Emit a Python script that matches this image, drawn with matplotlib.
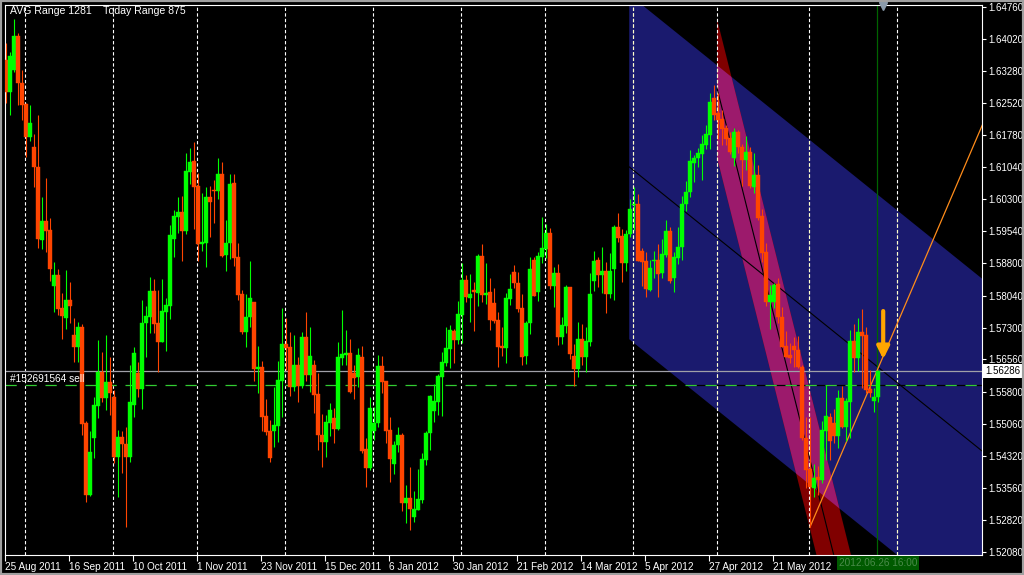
import numpy as np
import matplotlib.pyplot as plt
from matplotlib.patches import Polygon, Rectangle
from matplotlib.transforms import blended_transform_factory

plt.rcParams['font.family'] = ['Liberation Sans', 'DejaVu Sans']

# 日线 OHLC
opens = [1.6353, 1.6278, 1.6329, 1.6409, 1.6299, 1.6250, 1.6174, 1.6150, 1.6104, 1.5934,
         1.5978, 1.5957, 1.5827, 1.5853, 1.5776, 1.5752, 1.5794, 1.5713, 1.5685, 1.5731,
         1.5508, 1.5340, 1.5473, 1.5548, 1.5627, 1.5566, 1.5603, 1.5569, 1.5429, 1.5475,
         1.5459, 1.5429, 1.5550, 1.5624, 1.5587, 1.5741, 1.5755, 1.5815, 1.5741, 1.5697,
         1.5766, 1.5780, 1.5936, 1.5987, 1.5999, 1.5955, 1.6092, 1.6118, 1.6060, 1.5925,
         1.5927, 1.6034, 1.6050, 1.6048, 1.6087, 1.5899, 1.5927, 1.6066, 1.5894, 1.5808,
         1.5720, 1.5755, 1.5790, 1.5634, 1.5638, 1.5524, 1.5489, 1.5489, 1.5501, 1.5606,
         1.5692, 1.5685, 1.5592, 1.5643, 1.5594, 1.5708, 1.5620, 1.5643, 1.5575, 1.5480,
         1.5464, 1.5508, 1.5520, 1.5494, 1.5659, 1.5666, 1.5671, 1.5624, 1.5615, 1.5662,
         1.5448, 1.5403, 1.5489, 1.5508, 1.5641, 1.5606, 1.5492, 1.5413, 1.5457, 1.5480,
         1.5322, 1.5334, 1.5289, 1.5306, 1.5329, 1.5422, 1.5485, 1.5536, 1.5557, 1.5615,
         1.5648, 1.5680, 1.5722, 1.5701, 1.5759, 1.5841, 1.5799, 1.5818, 1.5811, 1.5897,
         1.5806, 1.5813, 1.5787, 1.5748, 1.5687, 1.5683, 1.5797, 1.5859, 1.5834, 1.5776,
         1.5664, 1.5741, 1.5887, 1.5813, 1.5894, 1.5913, 1.5950, 1.5827, 1.5857, 1.5708,
         1.5734, 1.5825, 1.5664, 1.5634, 1.5704, 1.5662, 1.5697, 1.5838, 1.5887, 1.5853,
         1.5862, 1.5808, 1.5866, 1.5964, 1.5943, 1.5880, 1.5948, 1.6015, 1.6018, 1.5908,
         1.5885, 1.5818, 1.5885, 1.5887, 1.5857, 1.5899, 1.5955, 1.5846, 1.5892, 1.5918,
         1.6018, 1.6046, 1.6113, 1.6125, 1.6134, 1.6155, 1.6178, 1.6264, 1.6229, 1.6215,
         1.6194, 1.6171, 1.6125, 1.6185, 1.6150, 1.6120, 1.6139, 1.6057, 1.6085, 1.5990,
         1.5906, 1.5790, 1.5790, 1.5832, 1.5755, 1.5687, 1.5666, 1.5687, 1.5678, 1.5638,
         1.5473, 1.5401, 1.5357, 1.5382, 1.5375, 1.5489, 1.5522, 1.5508, 1.5478, 1.5566,
         1.5499, 1.5557, 1.5699, 1.5659, 1.5720, 1.5713, 1.5587, 1.5559, 1.5569]
highs = [1.6392, 1.6371, 1.6448, 1.6415, 1.6329, 1.6253, 1.6248, 1.6181, 1.6225, 1.6034,
         1.6078, 1.5985, 1.5883, 1.5866, 1.5811, 1.5864, 1.5836, 1.5752, 1.5743, 1.5738,
         1.5513, 1.5489, 1.5569, 1.5701, 1.5673, 1.5713, 1.5662, 1.5585, 1.5492, 1.5489,
         1.5499, 1.5643, 1.5685, 1.5650, 1.5794, 1.5780, 1.5848, 1.5843, 1.5818, 1.5843,
         1.5799, 1.5969, 1.6004, 1.6034, 1.6036, 1.6136, 1.6148, 1.6162, 1.6090, 1.6043,
         1.6057, 1.6060, 1.6073, 1.6125, 1.6115, 1.5980, 1.6087, 1.6087, 1.5927, 1.5818,
         1.5808, 1.5885, 1.5790, 1.5687, 1.5652, 1.5564, 1.5515, 1.5592, 1.5652, 1.5776,
         1.5752, 1.5720, 1.5713, 1.5662, 1.5720, 1.5766, 1.5731, 1.5655, 1.5624, 1.5529,
         1.5527, 1.5555, 1.5543, 1.5696, 1.5771, 1.5724, 1.5704, 1.5643, 1.5683, 1.5687,
         1.5473, 1.5569, 1.5545, 1.5666, 1.5664, 1.5606, 1.5522, 1.5466, 1.5499, 1.5485,
         1.5364, 1.5406, 1.5350, 1.5401, 1.5438, 1.5489, 1.5573, 1.5599, 1.5622, 1.5673,
         1.5731, 1.5736, 1.5727, 1.5792, 1.5880, 1.5853, 1.5855, 1.5836, 1.5901, 1.5925,
         1.5880, 1.5846, 1.5822, 1.5766, 1.5731, 1.5811, 1.5855, 1.5876, 1.5859, 1.5808,
         1.5745, 1.5894, 1.5894, 1.5906, 1.5988, 1.5971, 1.5962, 1.5871, 1.5878, 1.5755,
         1.5829, 1.5825, 1.5692, 1.5743, 1.5738, 1.5731, 1.5857, 1.5908, 1.5894, 1.5918,
         1.5883, 1.5904, 1.5969, 1.5997, 1.5959, 1.5957, 1.6029, 1.6057, 1.6041, 1.5915,
         1.5906, 1.5887, 1.5908, 1.5925, 1.5936, 1.5980, 1.5964, 1.5906, 1.5964, 1.6036,
         1.6071, 1.6143, 1.6132, 1.6148, 1.6178, 1.6202, 1.6276, 1.6294, 1.6276, 1.6236,
         1.6202, 1.6185, 1.6194, 1.6190, 1.6157, 1.6176, 1.6150, 1.6136, 1.6108, 1.6006,
         1.5927, 1.5829, 1.5834, 1.5846, 1.5778, 1.5722, 1.5694, 1.5708, 1.5711, 1.5643,
         1.5522, 1.5522, 1.5413, 1.5408, 1.5513, 1.5597, 1.5531, 1.5541, 1.5585, 1.5594,
         1.5566, 1.5724, 1.5738, 1.5752, 1.5773, 1.5731, 1.5631, 1.5590, 1.5631]
lows = [1.6253, 1.6225, 1.6325, 1.6248, 1.6213, 1.6127, 1.6164, 1.6057, 1.5915, 1.5913,
        1.5906, 1.5838, 1.5766, 1.5759, 1.5704, 1.5727, 1.5740, 1.5650, 1.5650, 1.5480,
        1.5324, 1.5338, 1.5427, 1.5520, 1.5557, 1.5538, 1.5527, 1.5415, 1.5336, 1.5392,
        1.5266, 1.5417, 1.5522, 1.5569, 1.5541, 1.5662, 1.5717, 1.5717, 1.5627, 1.5697,
        1.5676, 1.5750, 1.5894, 1.5950, 1.5885, 1.5948, 1.6064, 1.5959, 1.5885, 1.5908,
        1.5871, 1.5941, 1.5973, 1.6029, 1.5894, 1.5862, 1.5890, 1.5873, 1.5794, 1.5715,
        1.5685, 1.5731, 1.5606, 1.5578, 1.5489, 1.5480, 1.5417, 1.5452, 1.5464, 1.5522,
        1.5631, 1.5571, 1.5583, 1.5557, 1.5590, 1.5606, 1.5580, 1.5531, 1.5445, 1.5406,
        1.5429, 1.5478, 1.5461, 1.5492, 1.5643, 1.5643, 1.5578, 1.5564, 1.5592, 1.5438,
        1.5359, 1.5399, 1.5468, 1.5499, 1.5578, 1.5461, 1.5371, 1.5390, 1.5441, 1.5303,
        1.5275, 1.5259, 1.5278, 1.5306, 1.5322, 1.5410, 1.5445, 1.5510, 1.5527, 1.5524,
        1.5641, 1.5636, 1.5648, 1.5692, 1.5694, 1.5790, 1.5743, 1.5722, 1.5780, 1.5790,
        1.5785, 1.5724, 1.5741, 1.5638, 1.5664, 1.5648, 1.5783, 1.5822, 1.5766, 1.5643,
        1.5645, 1.5715, 1.5804, 1.5792, 1.5880, 1.5892, 1.5820, 1.5778, 1.5690, 1.5692,
        1.5717, 1.5657, 1.5594, 1.5615, 1.5643, 1.5627, 1.5687, 1.5815, 1.5825, 1.5811,
        1.5764, 1.5799, 1.5794, 1.5929, 1.5836, 1.5862, 1.5941, 1.5957, 1.5885, 1.5827,
        1.5801, 1.5815, 1.5846, 1.5801, 1.5846, 1.5894, 1.5834, 1.5813, 1.5878, 1.5887,
        1.6001, 1.6034, 1.6069, 1.6104, 1.6073, 1.6146, 1.6146, 1.6213, 1.6169, 1.6155,
        1.6155, 1.6134, 1.6106, 1.6136, 1.6060, 1.6097, 1.6055, 1.6043, 1.5980, 1.5883,
        1.5780, 1.5727, 1.5776, 1.5741, 1.5685, 1.5662, 1.5648, 1.5638, 1.5636, 1.5468,
        1.5357, 1.5266, 1.5336, 1.5340, 1.5368, 1.5422, 1.5422, 1.5461, 1.5450, 1.5496,
        1.5466, 1.5473, 1.5627, 1.5629, 1.5590, 1.5578, 1.5569, 1.5534, 1.5557]
closes = [1.6278, 1.6362, 1.6409, 1.6299, 1.6248, 1.6174, 1.6206, 1.6104, 1.5936, 1.5978,
          1.5955, 1.5866, 1.5853, 1.5773, 1.5757, 1.5794, 1.5780, 1.5685, 1.5731, 1.5506,
          1.5340, 1.5441, 1.5550, 1.5627, 1.5566, 1.5603, 1.5578, 1.5429, 1.5475, 1.5459,
          1.5429, 1.5557, 1.5671, 1.5587, 1.5741, 1.5757, 1.5815, 1.5738, 1.5697, 1.5769,
          1.5783, 1.5946, 1.5990, 1.5999, 1.5955, 1.6094, 1.6115, 1.6057, 1.5925, 1.5929,
          1.6034, 1.6022, 1.6048, 1.6087, 1.5897, 1.5927, 1.6064, 1.5892, 1.5806, 1.5720,
          1.5755, 1.5799, 1.5634, 1.5638, 1.5522, 1.5487, 1.5427, 1.5503, 1.5608, 1.5692,
          1.5683, 1.5592, 1.5643, 1.5594, 1.5708, 1.5620, 1.5664, 1.5573, 1.5480, 1.5464,
          1.5510, 1.5538, 1.5494, 1.5662, 1.5669, 1.5671, 1.5580, 1.5613, 1.5666, 1.5443,
          1.5403, 1.5543, 1.5508, 1.5641, 1.5603, 1.5489, 1.5424, 1.5457, 1.5480, 1.5322,
          1.5334, 1.5308, 1.5308, 1.5331, 1.5424, 1.5485, 1.5571, 1.5559, 1.5617, 1.5650,
          1.5683, 1.5724, 1.5701, 1.5762, 1.5841, 1.5801, 1.5808, 1.5813, 1.5897, 1.5806,
          1.5811, 1.5748, 1.5745, 1.5685, 1.5683, 1.5799, 1.5820, 1.5834, 1.5773, 1.5662,
          1.5741, 1.5866, 1.5804, 1.5897, 1.5915, 1.5950, 1.5827, 1.5857, 1.5708, 1.5736,
          1.5825, 1.5669, 1.5634, 1.5704, 1.5662, 1.5699, 1.5808, 1.5885, 1.5853, 1.5862,
          1.5808, 1.5862, 1.5964, 1.5939, 1.5880, 1.5948, 1.6006, 1.6018, 1.5885, 1.5883,
          1.5820, 1.5869, 1.5887, 1.5855, 1.5901, 1.5955, 1.5838, 1.5894, 1.5918, 1.6018,
          1.6046, 1.6118, 1.6125, 1.6136, 1.6157, 1.6181, 1.6255, 1.6225, 1.6213, 1.6192,
          1.6169, 1.6139, 1.6185, 1.6150, 1.6120, 1.6139, 1.6060, 1.6085, 1.5985, 1.5904,
          1.5790, 1.5806, 1.5829, 1.5755, 1.5685, 1.5662, 1.5659, 1.5678, 1.5638, 1.5473,
          1.5399, 1.5359, 1.5380, 1.5375, 1.5492, 1.5524, 1.5466, 1.5478, 1.5566, 1.5499,
          1.5559, 1.5699, 1.5659, 1.5720, 1.5711, 1.5585, 1.5578, 1.5569, 1.5628]

# 坐标轴刻度
price_ticks = [1.64760, 1.64020, 1.63280, 1.62520, 1.61780, 1.61040, 1.60300, 1.59540, 1.58800,
               1.58040, 1.57300, 1.56560, 1.55800, 1.55060, 1.54320, 1.53560, 1.52820, 1.52080]
date_bars = [0, 16, 32, 48, 64, 80, 96, 112, 128, 144, 160, 176, 192]
date_labels = ['25 Aug 2011', '16 Sep 2011', '10 Oct 2011', '1 Nov 2011', '23 Nov 2011',
               '15 Dec 2011', '6 Jan 2012', '30 Jan 2012', '21 Feb 2012', '14 Mar 2012',
               '5 Apr 2012', '27 Apr 2012', '21 May 2012']
month_bars = [5, 27, 48, 70, 92, 114, 135, 157, 178, 201, 223]

# 通道和画线（柱序号, 价格）
blue_x = [155.8, 250]
blue_mid = [1.6104, 1.5398]
blue_half = 0.0401
red_x = [177.75, 215]
red_mid = [1.62875, 1.49007]
red_half = 0.01606
trend_x = [201, 246]
trend_y = [1.5266, 1.6243]
bid_price = 1.56286
order_price = 1.5597
arrow_bar, arrow_from, arrow_to = 219.3, 1.5775, 1.5650
time_bar = 217.8
time_text = '2012.06.26 16:00'

fig = plt.figure(figsize=(10.24, 5.75), dpi=100, facecolor='black')
ax = fig.add_axes([4.5 / 1024, 20 / 575, 977.5 / 1024, 550 / 575])
ax.set_facecolor('black')
ax.set_xlim(-0.375, 244)
ax.set_ylim(1.52008, 1.64807)

# 蓝色回归通道
blue_poly = [(blue_x[0], blue_mid[0] + blue_half), (blue_x[1], blue_mid[1] + blue_half),
             (blue_x[1], blue_mid[1] - blue_half), (blue_x[0], blue_mid[0] - blue_half)]
blue_patch = Polygon(blue_poly, closed=True, facecolor='#1a1a6e', edgecolor='none', zorder=1)
ax.add_patch(blue_patch)

# 红色通道，与蓝色重叠部分为品红
red_poly = [(red_x[0], red_mid[0] + red_half), (red_x[1], red_mid[1] + red_half),
            (red_x[1], red_mid[1] - red_half), (red_x[0], red_mid[0] - red_half)]
ax.add_patch(Polygon(red_poly, closed=True, facecolor='#800000', edgecolor='none', zorder=1.1))
mag = Polygon(red_poly, closed=True, facecolor='#9c1a6c', edgecolor='none', zorder=1.2)
ax.add_patch(mag)
mag.set_clip_path(blue_patch)

# 通道中线
ax.plot(blue_x, blue_mid, color='black', lw=0.8, zorder=1.5)
ax.plot(red_x, red_mid, color='black', lw=0.8, zorder=1.5)

# 月份分隔线
for b in month_bars:
    ax.axvline(b - 0.25, color='white', lw=0.8, ls=(0, (3, 2)), zorder=1.3)
    ln = ax.axvline(b - 0.25, color='#ffffc8', lw=0.8, ls=(0, (3, 2)), zorder=1.35)
    ln.set_clip_path(blue_patch)

# 当前价格线和订单线
ax.axhline(bid_price, color='#a0a0a8', lw=0.9, zorder=2)
ax.axhline(order_price, color='black', lw=0.9, zorder=2)
ax.axhline(order_price, color='#32cd32', lw=0.9, ls=(0, (9, 7)), zorder=2.1)
ax.text(1.0, order_price + 0.00135, '#152691564 sell', color='white', fontsize=7.3,
        va='center', ha='left', zorder=6)

# 时间线和趋势线
ax.axvline(time_bar, color='#006400', lw=0.9, zorder=1.6)
ax.plot(trend_x, trend_y, color='#ff8c1a', lw=0.9, zorder=2.5)

# K 线
x = np.arange(len(opens))
o = np.array(opens)
c = np.array(closes)
colors = ['#00ff00' if cc >= oo else '#ff4500' for oo, cc in zip(o, c)]
ax.vlines(x, lows, highs, colors=colors, lw=0.8, zorder=3)
bottoms = np.minimum(o, c)
heights = np.maximum(np.abs(c - o), 0.00022)
ax.bar(x, heights, width=0.78, bottom=bottoms, color=colors, edgecolor=colors,
       lw=0.3, zorder=4)

# 橙色箭头
ax.annotate('', xy=(arrow_bar, arrow_to), xytext=(arrow_bar, arrow_from),
            arrowprops=dict(arrowstyle='-|>', color='#ffa500', lw=3, mutation_scale=18),
            zorder=7)

# 顶部移位标记
ax.plot([arrow_bar], [1.6478], marker='v', color='#8a9aaa', markersize=6, clip_on=False, zorder=8)

# 坐标轴样式
for s in ax.spines.values():
    s.set_color('white')
    s.set_linewidth(0.8)
ax.yaxis.tick_right()
ax.set_yticks(price_ticks)
ax.set_yticklabels(['%.5f' % p for p in price_ticks])
ax.tick_params(axis='y', colors='white', labelsize=7, length=3, width=0.8, pad=1.5)
ax.set_xticks([b - 0.25 for b in date_bars])
ax.set_xticklabels(date_labels)
for lbl in ax.get_xticklabels():
    lbl.set_ha('left')
ax.tick_params(axis='x', colors='white', labelsize=7.2, length=4, width=0.8, pad=1)

# 右侧当前价格标签
tr = blended_transform_factory(ax.transAxes, ax.transData)
ax.text(1.003, bid_price, '%.5f' % bid_price, transform=tr, color='black', fontsize=7,
        va='center', ha='left', clip_on=False, zorder=10,
        bbox=dict(boxstyle='square,pad=0.2', facecolor='white', edgecolor='none'))

# 底部时间标签
tr2 = blended_transform_factory(ax.transData, ax.transAxes)
ax.text(208.2, -0.0145, time_text, transform=tr2, color='#4a8a4a', fontsize=7.2,
        va='center', ha='left', clip_on=False, zorder=10,
        bbox=dict(boxstyle='square,pad=0.2', facecolor='#005a00', edgecolor='none'))

fig.text(10 / 1024, 1 - 11 / 575, 'AVG Range 1281    Today Range 875', color='white',
         fontsize=7.6, va='center', ha='left')

fig.patches.append(Rectangle((0, 0), 1, 1, transform=fig.transFigure, fill=False,
                             edgecolor='#a0a0a0', lw=3))

plt.savefig('out.png', dpi=100, facecolor='black')
